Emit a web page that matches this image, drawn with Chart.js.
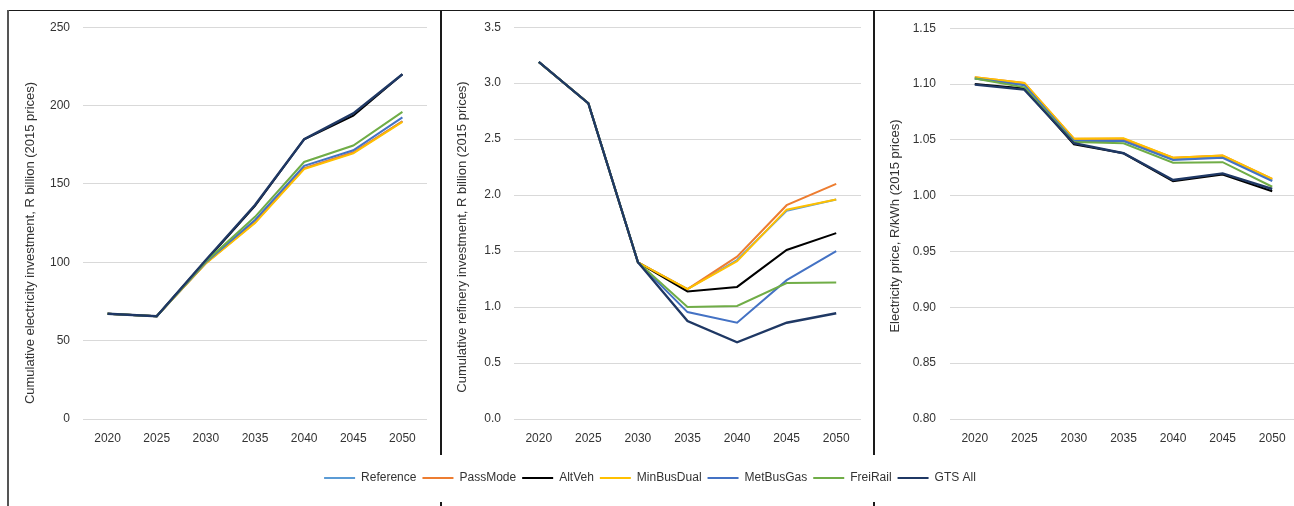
<!DOCTYPE html>
<html>
<head>
<meta charset="utf-8">
<script src="https://cdn.jsdelivr.net/npm/chart.js@4/dist/chart.umd.min.js"></script>
<style>
  html, body { margin: 0; padding: 0; background: #fff; overflow: hidden; }
  body { width: 1294px; height: 506px; position: relative; }
  canvas { position: absolute; }
  .rule { position: absolute; background: #1a1a1a; }
</style>
</head>
<body>
<div class="rule" style="left:8px;top:10px;width:1286px;height:1px;"></div>
<div class="rule" style="left:7px;top:10px;width:1.5px;height:496px;background:#555;"></div>
<div class="rule" style="left:439.5px;top:10px;width:2px;height:445px;"></div>
<div class="rule" style="left:439.5px;top:502px;width:2px;height:4px;"></div>
<div class="rule" style="left:873px;top:10px;width:2px;height:445px;"></div>
<div class="rule" style="left:873px;top:502px;width:2px;height:4px;"></div>

<canvas id="elecInv" width="431" height="448" style="left:9px;top:7px;"></canvas>
<canvas id="refInv" width="432" height="448" style="left:442px;top:7px;"></canvas>
<canvas id="elecPrice" width="424" height="448" style="left:876px;top:7px;"></canvas>
<canvas id="legend" width="700" height="36" style="left:300px;top:466px;"></canvas>

<script>
// Scenario years and names
const years = ['2020', '2025', '2030', '2035', '2040', '2045', '2050'];
const scenarios = ['Reference', 'PassMode', 'AltVeh', 'MinBusDual', 'MetBusGas', 'FreiRail', 'GTS All'];
const scenarioColors = ['#5B9BD5', '#ED7D31', '#000000', '#FFC000', '#4472C4', '#70AD47', '#1F3864'];

// Cumulative electricity investment, R billion (2015 prices)
const elecReference  = [67.2, 65.6, 99.5, 125.5, 160.0, 170.0, 190.0];
const elecPassMode   = [67.2, 65.6, 99.5, 125.5, 160.0, 170.0, 190.0];
const elecAltVeh     = [67.2, 65.6, 101.0, 136.0, 178.5, 193.5, 220.0];
const elecMinBusDual = [67.2, 65.6, 99.3, 125.0, 159.5, 169.5, 189.5];
const elecMetBusGas  = [67.2, 65.6, 100.0, 127.0, 161.5, 171.5, 192.5];
const elecFreiRail   = [67.2, 65.6, 100.5, 129.0, 164.0, 174.5, 196.0];
const elecGtsAll     = [67.2, 65.6, 101.5, 136.5, 178.5, 195.0, 220.0];
const elecTicks = [0, 50, 100, 150, 200, 250];

// Cumulative refinery investment, R billion (2015 prices)
const refReference  = [3.19, 2.82, 1.40, 1.16, 1.42, 1.86, 1.96];
const refPassMode   = [3.19, 2.82, 1.40, 1.16, 1.45, 1.91, 2.10];
const refAltVeh     = [3.19, 2.82, 1.40, 1.14, 1.18, 1.51, 1.66];
const refMinBusDual = [3.19, 2.82, 1.40, 1.16, 1.41, 1.87, 1.96];
const refMetBusGas  = [3.19, 2.82, 1.40, 0.955, 0.86, 1.24, 1.50];
const refFreiRail   = [3.19, 2.82, 1.40, 1.00, 1.01, 1.215, 1.22];
const refGtsAll     = [3.19, 2.82, 1.40, 0.875, 0.685, 0.86, 0.945];
const refTicks = [0, 0.5, 1.0, 1.5, 2.0, 2.5, 3.0, 3.5];

// Electricity price, R/kWh (2015 prices)
const priceReference  = [1.105, 1.100, 1.050, 1.050, 1.033, 1.035, 1.014];
const pricePassMode   = [1.106, 1.101, 1.051, 1.051, 1.034, 1.036, 1.015];
const priceAltVeh     = [1.100, 1.096, 1.046, 1.038, 1.013, 1.019, 1.004];
const priceMinBusDual = [1.106, 1.101, 1.051, 1.0515, 1.034, 1.036, 1.015];
const priceMetBusGas  = [1.105, 1.099, 1.049, 1.049, 1.032, 1.034, 1.013];
const priceFreiRail   = [1.105, 1.097, 1.048, 1.047, 1.0295, 1.030, 1.008];
const priceGtsAll     = [1.0995, 1.095, 1.047, 1.038, 1.014, 1.020, 1.006];
const priceTicks = [0.80, 0.85, 0.90, 0.95, 1.00, 1.05, 1.10, 1.15];

const FONT = "'Liberation Sans', Arial, sans-serif";
const TEXT = '#333333';

// Rotated value-axis caption placed at a fixed spot in the canvas
const axisCaption = {
  id: 'axisCaption',
  afterDraw(chart, args, opts) {
    if (!opts || !opts.text) return;
    const ctx = chart.ctx;
    ctx.save();
    ctx.translate(opts.x, opts.y);
    ctx.rotate(-Math.PI / 2);
    ctx.font = '13px ' + FONT;
    ctx.fillStyle = TEXT;
    ctx.textAlign = 'center';
    ctx.textBaseline = 'middle';
    ctx.fillText(opts.text, 0, 0);
    ctx.restore();
  }
};

function buildDatasets(seriesList) {
  return seriesList.map((values, i) => ({
    label: scenarios[i],
    data: values,
    borderColor: scenarioColors[i],
    backgroundColor: scenarioColors[i],
    borderWidth: i === 6 ? 2.4 : 2,
    pointRadius: 0,
    tension: 0,
    fill: false,
    order: seriesList.length - 1 - i
  }));
}

function makePanel(id, seriesList, ticks, decimals, cfg) {
  const tickSet = ticks.map(t => +t.toFixed(decimals));
  new Chart(document.getElementById(id), {
    type: 'line',
    data: { labels: years, datasets: buildDatasets(seriesList) },
    options: {
      responsive: false,
      animation: false,
      layout: { padding: { top: 11.5, right: cfg.right, bottom: 0, left: 0 } },
      plugins: {
        legend: { display: false },
        tooltip: { enabled: false },
        axisCaption: { text: cfg.title, x: cfg.titleX, y: cfg.titleY }
      },
      scales: {
        x: {
          offset: true,
          grid: { display: false, drawTicks: false },
          border: { display: false },
          ticks: { color: TEXT, font: { family: FONT, size: 12 }, padding: 12, maxRotation: 0 },
          afterFit(scale) { scale.height = 36; }
        },
        y: {
          min: ticks[0],
          max: ticks[ticks.length - 1],
          afterBuildTicks(scale) { scale.ticks = tickSet.map(v => ({ value: v })); },
          grid: { color: '#d9d9d9', lineWidth: 1, drawTicks: false },
          border: { display: false },
          ticks: {
            color: TEXT,
            font: { family: FONT, size: 12 },
            padding: cfg.tickPad,
            callback: v => Number(v).toFixed(decimals)
          },
          afterFit(scale) { scale.width = cfg.axisWidth; }
        }
      }
    },
    plugins: [axisCaption]
  });
}

makePanel('elecInv',
  [elecReference, elecPassMode, elecAltVeh, elecMinBusDual, elecMetBusGas, elecFreiRail, elecGtsAll],
  elecTicks, 0,
  { right: 13, axisWidth: 74, tickPad: 13, title: 'Cumulative electricity investment, R billion (2015 prices)', titleX: 21, titleY: 236 });

makePanel('refInv',
  [refReference, refPassMode, refAltVeh, refMinBusDual, refMetBusGas, refFreiRail, refGtsAll],
  refTicks, 1,
  { right: 13, axisWidth: 72, tickPad: 13, title: 'Cumulative refinery investment, R billion (2015 prices)', titleX: 20, titleY: 230 });

makePanel('elecPrice',
  [priceReference, pricePassMode, priceAltVeh, priceMinBusDual, priceMetBusGas, priceFreiRail, priceGtsAll],
  priceTicks, 2,
  { right: 3, axisWidth: 74, tickPad: 14, title: 'Electricity price, R/kWh (2015 prices)', titleX: 19, titleY: 219 });

// Shared legend for the three panels
new Chart(document.getElementById('legend'), {
  type: 'line',
  data: {
    labels: years,
    datasets: scenarios.map((name, i) => ({
      label: name, data: [], borderColor: scenarioColors[i], backgroundColor: scenarioColors[i], borderWidth: 2
    }))
  },
  options: {
    responsive: false,
    animation: false,
    layout: { padding: 0 },
    scales: { x: { display: false }, y: { display: false } },
    plugins: {
      tooltip: { enabled: false },
      legend: {
        display: true,
        position: 'top',
        align: 'center',
        labels: {
          usePointStyle: true,
          pointStyle: 'line',
          pointStyleWidth: 31,
          color: TEXT,
          font: { family: FONT, size: 12 },
          padding: 6
        }
      }
    }
  }
});
</script>
</body>
</html>
